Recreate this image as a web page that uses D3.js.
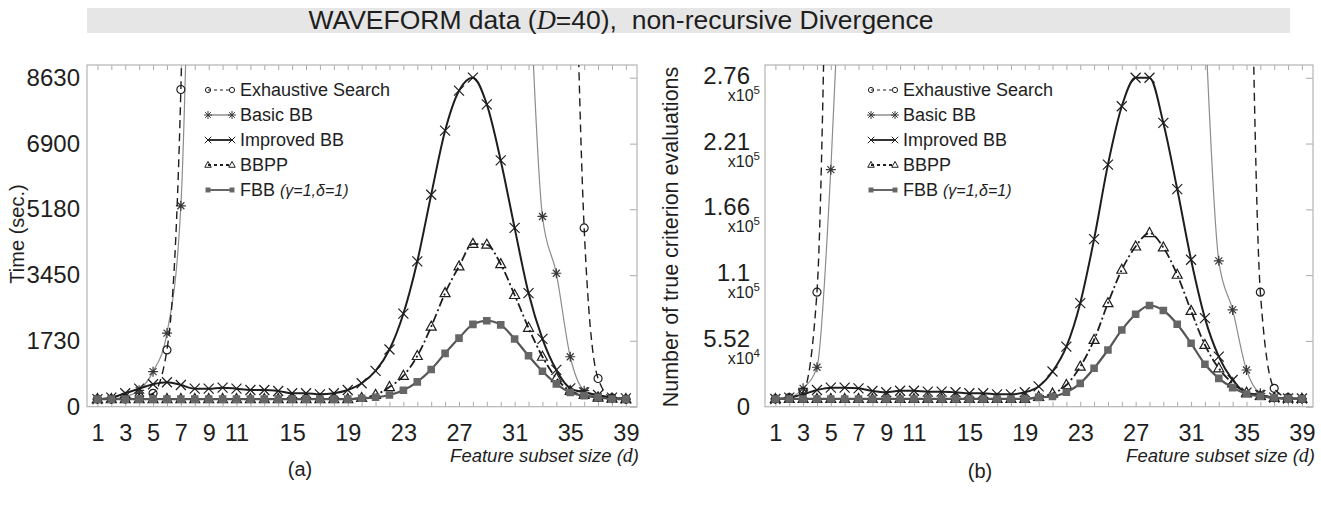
<!DOCTYPE html>
<html>
<head>
<meta charset="utf-8">
<script src="https://cdn.jsdelivr.net/npm/d3@7"></script>
<style>
  body { margin: 0; background: #fff; }
  svg { display: block; }
  text { font-family: "Liberation Sans", Arial, sans-serif; fill: #1e1e1e; }
  .tick text { font-family: "Liberation Sans Narrow", "Liberation Sans", Arial, sans-serif; }
</style>
</head>
<body>
<svg id="chart" width="1321" height="506"></svg>
<script>
// feature subset size d = 1..39
const dims = [1,2,3,4,5,6,7,8,9,10,11,12,13,14,15,16,17,18,19,20,21,22,23,24,25,26,27,28,29,30,31,32,33,34,35,36,37,38,39];
const xTickLabels = [1,3,5,7,9,11,15,19,23,27,31,35,39];

// (a) time in seconds, null = off the chart
const timeExhaustive = [200,200,205,260,352,1490,8320,40000,null,null,null,null,null,null,null,null,null,null,null,null,null,null,null,null,null,null,null,null,null,null,null,null,null,null,19000,4690,740,230,200];
const timeBasicBB = [200,210,260,430,920,1930,5270,20000,null,null,null,null,null,null,null,null,null,null,null,null,null,null,null,null,null,null,null,null,null,null,null,12000,4990,3500,1310,420,260,220,200];
const timeImprovedBB = [200,237,352,473,588,641,570,473,473,500,473,439,439,412,352,352,325,352,439,614,938,1500,2440,3810,5560,7240,8290,8630,7930,6460,4690,2980,1780,964,482,377,307,237,220];
const timeBBPP = [200,200,200,200,200,200,200,200,200,200,200,200,200,200,200,200,200,200,200,230,310,515,810,1330,2100,2980,3680,4270,4250,3740,2930,2070,1310,746,412,307,240,215,200];
const timeFBB = [200,200,200,200,200,200,200,200,200,200,200,200,200,200,200,200,200,200,200,220,247,307,430,650,975,1400,1800,2160,2255,2146,1775,1335,930,600,372,290,247,202,200];
const timeTicks = [0,1730,3450,5180,6900,8630];

// (b) number of true criterion evaluations
const evalExhaustive = [6500,7600,12600,96100,650000,null,null,null,null,null,null,null,null,null,null,null,null,null,null,null,null,null,null,null,null,null,null,null,null,null,null,null,null,null,656000,96100,15400,7600,6600];
const evalBasicBB = [6500,7600,15400,33100,198900,450000,null,null,null,null,null,null,null,null,null,null,null,null,null,null,null,null,null,null,null,null,null,null,null,null,null,330000,122400,81200,30800,11200,7600,6900,6600];
const evalImprovedBB = [6470,7560,10400,14000,16000,16000,15400,13200,12100,13400,13400,12600,12600,12100,11300,11300,10400,10400,12100,17000,29500,50400,86900,140600,203100,252100,276000,276000,238100,182600,123300,74300,42000,22400,11800,9800,7600,6900,6900];
const evalBBPP = [6500,6500,6500,6500,6500,6500,6500,6500,6500,6500,6500,6500,6500,6500,6500,6500,6500,6500,6500,8300,11000,18200,33600,56000,86900,114900,134400,145700,133600,110700,80400,51800,32200,19600,11800,9000,7400,6900,6600];
const evalFBB = [6500,6500,6500,6500,6500,6500,6500,6500,6500,6500,6500,6500,6500,6500,6500,6500,6500,6500,6500,7800,8600,12100,19600,32200,47600,64400,77600,84900,80700,69200,53200,35600,23800,16000,10700,8700,7600,6900,6600];
const evalTicks = [0,55200,110400,165600,220800,276000];
const evalTickLabels = ["0","5.52","1.1","1.66","2.21","2.76"];
const evalTickExp = [null,4,5,5,5,5];

const seriesNames = ["Exhaustive Search","Basic BB","Improved BB","BBPP","FBB"];

const svg = d3.select("#chart");

// series styles
const styles = {
  "Exhaustive Search": { stroke: "#1e1e1e", width: 1.4, dash: "8,5", marker: "circle", mfill: "none", mstroke: "#1e1e1e" },
  "Basic BB":          { stroke: "#8c8c8c", width: 1.2, dash: null, marker: "asterisk", mfill: "none", mstroke: "#3a3a3a" },
  "Improved BB":       { stroke: "#1e1e1e", width: 2.0, dash: null, marker: "cross", mfill: "none", mstroke: "#1e1e1e" },
  "BBPP":              { stroke: "#1e1e1e", width: 1.8, dash: "9,3,2,3", marker: "triangle", mfill: "none", mstroke: "#1e1e1e" },
  "FBB":               { stroke: "#555", width: 2.2, dash: null, marker: "square", mfill: "#666", mstroke: "#666" }
};

const markerPaths = {
  circle: r => `M${r},0A${r},${r} 0 1,1 ${-r},0A${r},${r} 0 1,1 ${r},0Z`,
  asterisk: r => `M0,${-r}L0,${r}M${-r},0L${r},0M${-r*0.7},${-r*0.7}L${r*0.7},${r*0.7}M${-r*0.7},${r*0.7}L${r*0.7},${-r*0.7}`,
  cross: r => `M${-r},${-r}L${r},${r}M${-r},${r}L${r},${-r}`,
  triangle: r => `M0,${-r*1.1}L${r},${r*0.7}L${-r},${r*0.7}Z`,
  square: r => `M${-r},${-r}h${2*r}v${2*r}h${-2*r}Z`
};
const markerSize = { circle: 4, asterisk: 5, cross: 5, triangle: 5, square: 3.8 };

function drawMarker(g, shape, cx, cy, st, scale) {
  const k = scale || 1;
  g.append("path")
    .attr("d", markerPaths[shape](markerSize[shape] * k))
    .attr("transform", `translate(${cx},${cy})`)
    .attr("fill", st.mfill)
    .attr("stroke", st.mstroke)
    .attr("stroke-width", shape === "square" ? 0 : (k < 1 ? 1 : 1.2));
}

function drawPanel(cfg) {
  const { left, top, right, bottom } = cfg;
  const x = d3.scaleLinear().domain([0.25, 39.8]).range([left, right]);
  const y = d3.scaleLinear().domain([0, cfg.yMax]).range([bottom, top]);
  const g = svg.append("g");

  g.append("clipPath").attr("id", cfg.id + "-clip")
    .append("rect").attr("x", left).attr("y", top).attr("width", right - left).attr("height", bottom - top);

  // minor ticks, inside, top and bottom
  g.append("g").attr("transform", `translate(0,${bottom})`)
    .call(d3.axisBottom(x).tickValues(dims).tickSize(-5).tickFormat(""))
    .call(a => a.select(".domain").remove())
    .selectAll("line").attr("stroke", "#aaa");
  g.append("g").attr("transform", `translate(0,${top})`)
    .call(d3.axisTop(x).tickValues(dims).tickSize(-5).tickFormat(""))
    .call(a => a.select(".domain").remove())
    .selectAll("line").attr("stroke", "#aaa");
  g.append("g").attr("transform", `translate(${right},0)`)
    .call(d3.axisRight(y).tickValues(cfg.yTicks).tickSize(-7).tickFormat(""))
    .call(a => a.select(".domain").remove())
    .selectAll("line").attr("stroke", "#aaa");

  // x tick labels
  g.append("g").attr("transform", `translate(0,${bottom})`)
    .call(d3.axisBottom(x).tickValues(xTickLabels).tickSize(0).tickPadding(18))
    .call(a => a.select(".domain").remove())
    .selectAll("text").attr("font-size", 23.5).attr("fill", "#1e1e1e");

  // frame
  g.append("rect").attr("x", left).attr("y", top).attr("width", right - left).attr("height", bottom - top)
    .attr("fill", "none").attr("stroke", "#b4b4b4").attr("stroke-width", 1.2);

  // series
  const plot = g.append("g").attr("clip-path", `url(#${cfg.id}-clip)`);
  const line = d3.line()
    .defined(d => d.v !== null)
    .x(d => x(d.d))
    .y(d => y(d.v))
    .curve(d3.curveMonotoneX);
  const order = ["Basic BB", "Exhaustive Search", "Improved BB", "BBPP", "FBB"];
  order.forEach(name => {
    const st = styles[name];
    const pts = dims.map((d, i) => ({ d: d, v: cfg.series[name][i] }));
    plot.append("path").datum(pts)
      .attr("d", line)
      .attr("fill", "none")
      .attr("stroke", st.stroke)
      .attr("stroke-width", st.width)
      .attr("stroke-dasharray", st.dash);
    pts.filter(p => p.v !== null && p.v <= cfg.yMax)
      .forEach(p => drawMarker(plot, st.marker, x(p.d), y(p.v), st));
  });

  // legend
  const lg = g.append("g");
  seriesNames.forEach((name, i) => {
    const st = styles[name];
    const ly = cfg.legendY + i * 25;
    const x0 = cfg.legendX, x1 = cfg.legendX + 24;
    lg.append("line").attr("x1", x0).attr("x2", x1).attr("y1", ly).attr("y2", ly)
      .attr("stroke", name === "Basic BB" ? "#666" : st.stroke).attr("stroke-width", st.width > 1.5 ? 1.8 : 1.1)
      .attr("stroke-dasharray", st.dash ? "3,3" : null);
    const k = st.marker === "asterisk" ? 0.8 : 0.65;
    drawMarker(lg, st.marker, x0, ly, st, k);
    drawMarker(lg, st.marker, x1, ly, st, k);
    const t = lg.append("text").attr("x", cfg.legendX + 32).attr("y", ly).attr("dy", "0.36em")
      .attr("font-size", 18);
    if (name === "FBB") {
      t.append("tspan").text("FBB ");
      t.append("tspan").attr("font-style", "italic").attr("font-size", 16).text("(\u03b3=1,\u03b4=1)");
    } else {
      t.text(name);
    }
  });

  // x label
  const xl = g.append("text").attr("x", right + 2).attr("y", 462).attr("text-anchor", "end")
    .attr("font-size", 18.5).attr("font-style", "italic");
  xl.append("tspan").text("Feature subset size (");
  xl.append("tspan").attr("font-family", "Liberation Serif, serif").attr("font-size", 20).text("d");
  xl.append("tspan").text(")");

  // panel label
  g.append("text").attr("x", cfg.panelX).attr("y", cfg.panelY).attr("text-anchor", "middle")
    .attr("font-size", 20).text(cfg.panelLabel);

  return { g, x, y };
}

// panel (a)
const pa = drawPanel({
  id: "pa", left: 87, top: 65, right: 637, bottom: 406.7, yMax: 8963, yTicks: timeTicks,
  series: { "Exhaustive Search": timeExhaustive, "Basic BB": timeBasicBB, "Improved BB": timeImprovedBB, "BBPP": timeBBPP, "FBB": timeFBB },
  legendX: 208, legendY: 90, panelX: 300, panelY: 476, panelLabel: "(a)"
});
pa.g.append("g").attr("transform", "translate(87,0)")
  .call(d3.axisLeft(pa.y).tickValues(timeTicks).tickSize(0).tickPadding(7).tickFormat(d3.format("d")))
  .call(a => a.select(".domain").remove())
  .selectAll("text").attr("font-size", 24).attr("fill", "#1e1e1e");
pa.g.append("text").attr("transform", "translate(24,234) rotate(-90)").attr("text-anchor", "middle")
  .attr("font-size", 20).text("Time (sec.)");

// panel (b)
const pb = drawPanel({
  id: "pb", left: 765, top: 65, right: 1313, bottom: 406.7, yMax: 286700, yTicks: evalTicks,
  series: { "Exhaustive Search": evalExhaustive, "Basic BB": evalBasicBB, "Improved BB": evalImprovedBB, "BBPP": evalBBPP, "FBB": evalFBB },
  legendX: 871, legendY: 90, panelX: 980, panelY: 478, panelLabel: "(b)"
});
const yl = pb.g.append("g").attr("class", "tick");
evalTicks.forEach((t, i) => {
  const ty = pb.y(t);
  yl.append("text").attr("x", 750).attr("y", ty).attr("dy", i === 0 ? "0.36em" : "0.25em")
    .attr("text-anchor", "end").attr("font-size", 24).text(evalTickLabels[i]);
  if (evalTickExp[i] !== null) {
    const e = yl.append("text").attr("x", 760).attr("y", ty + 23).attr("text-anchor", "end")
      .attr("font-size", 16).style("font-family", "Liberation Sans, Arial, sans-serif");
    e.append("tspan").text("x10");
    e.append("tspan").attr("dy", -7).attr("font-size", 11.5).text(evalTickExp[i]);
  }
});
pb.g.append("text").attr("transform", "translate(678,237) rotate(-90)").attr("text-anchor", "middle")
  .attr("font-size", 21.5).text("Number of true criterion evaluations");

// title band
svg.append("rect").attr("x", 87).attr("y", 8).attr("width", 1203).attr("height", 25).attr("fill", "#e6e6e6");
const title = svg.append("text").attr("x", 621).attr("y", 29).attr("text-anchor", "middle")
  .attr("font-size", 26.5).attr("xml:space", "preserve").style("white-space", "pre");
title.append("tspan").text("WAVEFORM data (");
title.append("tspan").attr("font-family", "Liberation Serif, serif").attr("font-style", "italic").text("D");
title.append("tspan").text("=40),  non-recursive Divergence");
</script>
</body>
</html>
